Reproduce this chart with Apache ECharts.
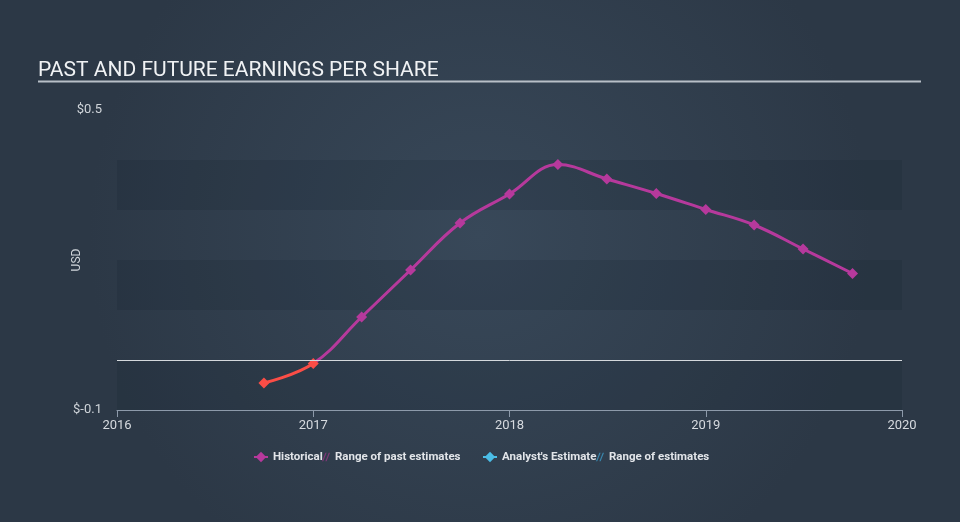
<!DOCTYPE html>
<html>
<head>
<meta charset="utf-8">
<script src="https://cdn.jsdelivr.net/npm/echarts@6/dist/echarts.min.js"></script>
<style>
html,body{margin:0;padding:0;background:#303c4b;}
#chart{width:960px;height:522px;}
</style>
</head>
<body>
<div id="chart"></div>
<script>
// Quarter-end dates and EPS values (USD)
var dates = ['2016-09-30','2016-12-31','2017-03-31','2017-06-30','2017-09-30','2017-12-31',
             '2018-03-31','2018-06-30','2018-09-30','2018-12-31','2019-03-31','2019-06-30','2019-09-30'];
var eps = [-0.046, -0.007, 0.086, 0.18, 0.274, 0.332, 0.391, 0.362, 0.333, 0.301, 0.27, 0.222, 0.173];
var xTicks = [2016, 2017, 2018, 2019, 2020];
var yTickLabels = ['$-0.1', '$0.5'];
var redUntil = '2016-12-31'; // loss-period segment drawn in red

function toYear(s) {
  var d = new Date(s + 'T00:00:00Z');
  var y = d.getUTCFullYear();
  var start = Date.UTC(y, 0, 1), end = Date.UTC(y + 1, 0, 1);
  return y + (d.getTime() + 86400000 - start) / (end - start);
}
var MAG = '#b6399c', RED = '#fb4d46', BLUE = '#4bbde6';
var redX = toYear(redUntil);
var pts = dates.map(function (d, i) {
  var x = toYear(d);
  return { value: [x, eps[i]], itemStyle: { color: x <= redX + 1e-9 ? RED : MAG } };
});

var chart = echarts.init(document.getElementById('chart'));
var hatch = 'path://M0,10L4,0L5.5,0L1.5,10Z M4,10L8,0L9.5,0L5.5,10Z';
var legendText = { color: '#e2e5e9', fontSize: 11.5, fontWeight: 'bold', fontFamily: 'Roboto' };

chart.setOption({
  animation: false,
  textStyle: { fontFamily: 'Roboto, sans-serif' },
  graphic: [
    { type: 'rect', z: -10, silent: true, shape: { x: 0, y: 0, width: 960, height: 522 },
      style: { fill: new echarts.graphic.RadialGradient(0.5, 0.45, 0.75, [
        { offset: 0, color: '#384859' }, { offset: 1, color: '#2c3846' }]) } },
    { type: 'line', silent: true, shape: { x1: 38, y1: 81.5, x2: 921, y2: 81.5 },
      style: { stroke: '#b8bfc7', lineWidth: 2 } }
  ],
  title: {
    text: 'PAST AND FUTURE EARNINGS PER SHARE',
    left: 33, top: 55,
    textStyle: { color: '#f0f2f4', fontSize: 21, fontWeight: 'normal', fontFamily: 'Roboto' }
  },
  legend: [
    { left: 248, top: 446, itemWidth: 14, itemHeight: 13, textStyle: legendText,
      data: [{ name: 'Historical' }] },
    { left: 317, top: 446, itemWidth: 8, itemHeight: 13, textStyle: legendText,
      data: [{ name: 'Range of past estimates', icon: hatch, itemStyle: { color: '#7e3878' } }] },
    { left: 477, top: 446, itemWidth: 14, itemHeight: 13, textStyle: legendText,
      data: [{ name: "Analyst's Estimate" }] },
    { left: 591, top: 446, itemWidth: 8, itemHeight: 13, textStyle: legendText,
      data: [{ name: 'Range of estimates', icon: hatch, itemStyle: { color: '#3a86ad' } }] }
  ],
  grid: { left: 117, right: 58, top: 110, bottom: 112 },
  xAxis: {
    type: 'value', min: xTicks[0], max: xTicks[xTicks.length - 1], interval: 1,
    axisLine: { onZero: false, lineStyle: { color: '#8d9aaa', width: 1 } },
    axisTick: { show: true, length: 7, lineStyle: { color: '#8d9aaa' } },
    axisLabel: { color: '#d6dadf', fontSize: 13, margin: 9, formatter: function (v) { return String(Math.round(v)); } },
    splitLine: { show: false }
  },
  yAxis: {
    type: 'value', min: -0.1, max: 0.5, interval: 0.1,
    name: 'USD', nameLocation: 'middle', nameGap: 34, nameRotate: 90, nameMoveOverlap: false,
    nameTextStyle: { color: '#d0d5da', fontSize: 12 },
    axisLine: { show: false }, axisTick: { show: false },
    axisLabel: { color: '#d0d5da', fontSize: 13, margin: 15,
      formatter: function (v) {
        if (Math.abs(v - 0.5) < 1e-6) return yTickLabels[1];
        if (Math.abs(v + 0.1) < 1e-6) return yTickLabels[0];
        return '';
      } },
    splitLine: { show: false },
    splitArea: { show: true, areaStyle: { color: ['rgba(20,30,42,0.16)', 'rgba(0,0,0,0)'] } }
  },
  series: [
    { name: 'EPS', type: 'line', data: pts, smooth: 0.4,
      symbol: 'diamond', symbolSize: 11, showSymbol: true,
      lineStyle: { width: 3, color: MAG }, itemStyle: { color: MAG }, z: 3,
      markLine: { silent: true, symbol: 'none', label: { show: false },
        lineStyle: { color: '#d4d8dc', width: 1, type: 'solid' }, data: [{ yAxis: 0 }] } },
    { name: 'Historical', type: 'line', data: [], symbol: 'diamond', symbolSize: 11,
      lineStyle: { color: MAG, width: 3 }, itemStyle: { color: MAG } },
    { name: 'Range of past estimates', type: 'line', data: [], itemStyle: { color: '#7e3878' } },
    { name: "Analyst's Estimate", type: 'line', data: [], symbol: 'diamond', symbolSize: 11,
      lineStyle: { color: BLUE, width: 3 }, itemStyle: { color: BLUE } },
    { name: 'Range of estimates', type: 'line', data: [], itemStyle: { color: '#3a86ad' } }
  ]
});

// Split the line colour at the end of the red period, using the axis scale.
var px = chart.convertToPixel({ xAxisIndex: 0 }, redX);
var W = chart.getWidth();
var f = px / W;
chart.setOption({
  series: [{ name: 'EPS',
    lineStyle: { color: new echarts.graphic.LinearGradient(0, 0, W, 0, [
      { offset: 0, color: RED }, { offset: f, color: RED },
      { offset: f, color: MAG }, { offset: 1, color: MAG }], true) } }]
});
</script>
</body>
</html>
